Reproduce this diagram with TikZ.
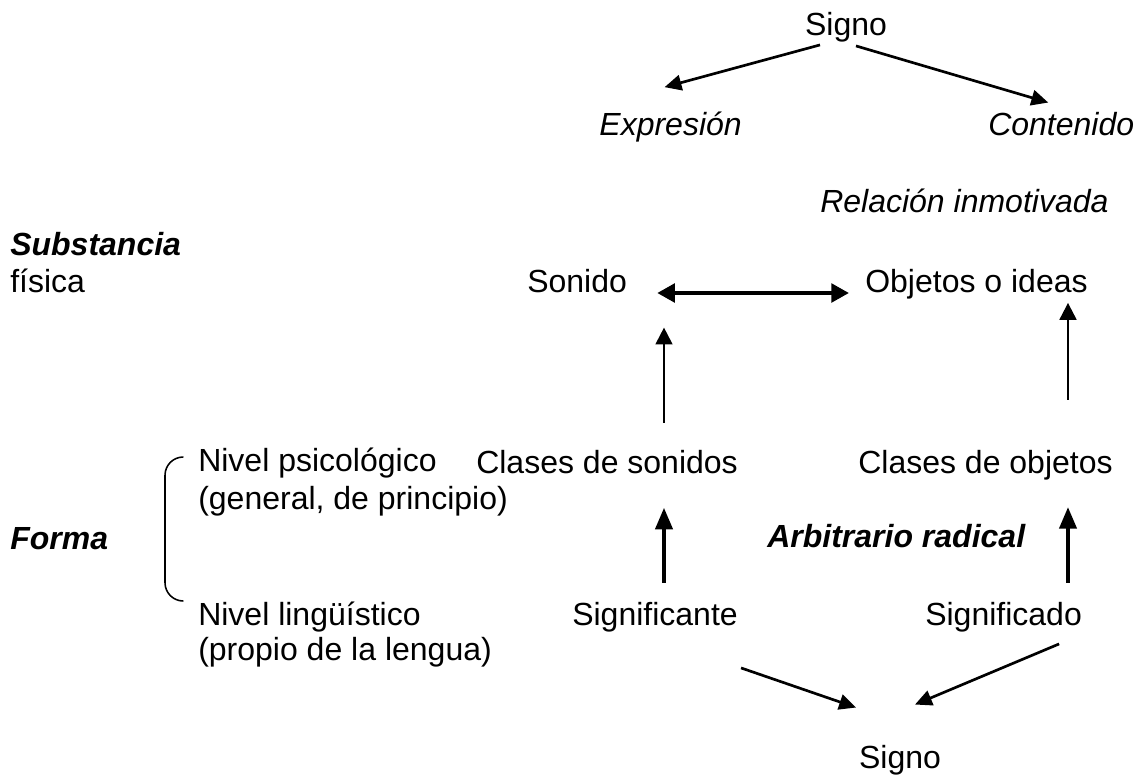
\documentclass[tikz,border=0pt]{standalone}
\usepackage{fontspec}
\setmainfont{Liberation Sans}
\usepackage{tikz}
\usetikzlibrary{calc,arrows.meta}
\tikzset{>={Triangle[length=12pt,width=11pt]}}

\begin{document}
\begin{tikzpicture}[x=0.025cm,y=-0.025cm,
    txt/.style={inner sep=0pt,anchor=base west,font=\fontsize{22.76}{27}\selectfont},
    cursiva/.style={txt,font=\fontsize{22.76}{27}\selectfont\itshape},
    negrita/.style={txt,font=\fontsize{22.76}{27}\selectfont\bfseries\itshape},
    flecha/.style={->,line width=1.9pt},
    flechafina/.style={-{Triangle[length=12pt,width=12pt]},line width=1.5pt},
    flechagruesa/.style={-{Triangle[length=15.5pt,width=12pt]},line width=3.2pt},
    flechadoble/.style={{Triangle[length=12.5pt,width=13pt]}-{Triangle[length=12.5pt,width=13pt]},line width=3pt},
    llave/.style={line width=1.1pt,rounded corners=13pt}]
          \useasboundingbox (0,0) rectangle (1139,776);
          % signo: expresion y contenido
          \node[txt,anchor=base] (signoA) at (846,35) {Signo};
          \node[cursiva,anchor=base east] (expresion) at (742,135) {Expresión};
          \node[cursiva] (contenido) at (988,135) {Contenido};
          \draw[flecha] ($(signoA.south)+(-26,3)$) -- ($(expresion.north)+(-6,-24)$);
          \draw[flecha] ($(signoA.south)+(10,4)$) -- ($(contenido.north)+(-13,-9)$);
          \node[cursiva] (relacion) at (820,212) {Relación inmotivada};
          % substancia
          \node[negrita] (substancia) at (10,255) {Substancia};
          \node[txt] (fisica) at (10,292) {física};
          \node[txt] (sonido) at (527,292) {Sonido};
          \node[txt] (objetos) at (865,292) {Objetos o ideas};
          \draw[flechadoble] ($(sonido.base east)+(30,1)$) -- ($(objetos.base west)+(-16,1)$);
          % forma
          \node[txt] (psico) at (198,471) {Nivel psicológico};
          \node[txt] (psicoB) at (198,509) {(general, de principio)};
          \node[txt] (clasesS) at (476,473) {Clases de sonidos};
          \node[txt] (clasesO) at (858,473) {Clases de objetos};
          \node[negrita] (forma) at (10,549) {Forma};
          \node[negrita] (arbitrario) at (767,547) {Arbitrario radical};
          \node[txt] (linguistico) at (198,625) {Nivel lingüístico};
          \node[txt] (linguisticoB) at (198,660) {(propio de la lengua)};
          \node[txt] (significante) at (572,625) {Significante};
          \node[txt] (significado) at (925,625) {Significado};
          \draw[llave] ($(psico.base west)+(-15,-14)$) -- ++(-18,0) |- ($(linguistico.base west)+(-15,-24)$);
          \draw[flechafina] ($(clasesS.north west)+(188,-27)$) -- ($(sonido.south west)+(137,35)$);
          \draw[flechafina] ($(clasesO.north west)+(210,-50)$) -- ($(objetos.south west)+(203,4)$);
          \draw[flechagruesa] ($(significante.north west)+(92,-19)$) -- ($(clasesS.south west)+(188,34)$);
          \draw[flechagruesa] ($(significado.north west)+(143,-19)$) -- ($(clasesO.south west)+(210,27)$);
          % signo final
          \node[txt,anchor=base] (signoB) at (900,768) {Signo};
          \draw[flecha] ($(significante.south east)+(3,36)$) -- ($(signoB.north)+(-44,-37)$);
          \draw[flecha] ($(significado.south east)+(-23,12)$) -- ($(signoB.north)+(15,-40)$);
    \end{tikzpicture}
\end{document}
